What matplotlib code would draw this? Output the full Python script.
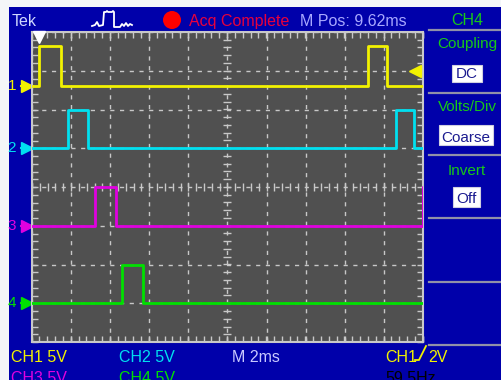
import numpy as np
import matplotlib
matplotlib.use('Agg')
import matplotlib.pyplot as plt
import matplotlib.transforms as mtransforms
from matplotlib.patches import Rectangle, Circle
from matplotlib.ticker import MultipleLocator

plt.rcParams['font.family'] = ['Liberation Sans', 'DejaVu Sans']

# scope settings
ms_per_div = 2.0
volts_per_div = 5.0
h_pos = 9.62          # ms at screen centre
n_xdiv, n_ydiv = 10, 8
trig_level = 2.0      # V on CH1

channels = ['CH1', 'CH2', 'CH3', 'CH4']
ch_colors = ['#f2f200', '#00e0f0', '#e000e0', '#00e000']
ch_offsets = [2.6, 1.0, -1.0, -3.0]     # ground marker, divisions
pulse_volts = [5.2, 5.0, 5.0, 5.0]
rise_ms = [[0.0, 16.81], [1.46, 18.24], [2.84, 19.60], [4.22]]
fall_ms = [[1.10, 17.78], [2.48, 19.16], [3.92, 21.0], [5.30]]

# little "acquire" icon next to Tek logo (screen pixels)
icon_x = [92, 95, 97, 99, 103, 104, 106, 107, 108, 112, 113, 114, 114, 120, 122, 124, 126, 128, 130, 132]
icon_y = [26, 25, 22, 26, 25, 12, 12, 11, 12, 12, 11, 12, 27, 27, 24, 26, 23, 26, 24, 25]

blue = '#0000aa'
grid_col = '#c8c8c8'
panel_green = '#18c818'
box_text = '#1c1c90'

W, H = 502, 380
fig = plt.figure(figsize=(W / 100, H / 100), dpi=100, facecolor='#f4f6f8')

# background in pixel coordinates
bg = fig.add_axes([0, 0, 1, 1])
bg.set_xlim(0, W)
bg.set_ylim(H, 0)
bg.axis('off')
bg.add_patch(Rectangle((9, 7), W - 9, H - 7, color=blue, lw=0))

# header
bg.text(12, 26, 'Tek', color='#d0d8ff', fontsize=11.5, va='baseline')
bg.plot(icon_x, icon_y, color='white', lw=1.3)
bg.add_patch(Circle((172, 20), 9, color='#ff0000', lw=0))
bg.text(189, 26, 'Acq Complete', color='#e8003c', fontsize=11.5, va='baseline')
bg.text(300, 26, 'M Pos: 9.62ms', color='#a8a8ff', fontsize=11.5, va='baseline')

# right-hand menu
bg.text(467, 25, 'CH4', color=panel_green, fontsize=11.5, ha='center', va='baseline')
for y in [30, 93, 155, 218, 282, 345]:
    bg.plot([429, W], [y, y], color='#9090a8', lw=1.6)
menu = [('Coupling', 48, 'DC', 452, 65, 30, 17, 78),
        ('Volts/Div', 111, 'Coarse', 439, 125, 54, 20, 142),
        ('Invert', 175, 'Off', 453, 187, 27, 20, 203)]
for title, ty, val, bx, by, bw, bh, vy in menu:
    bg.text(467, ty, title, color=panel_green, fontsize=11, ha='center', va='baseline')
    bg.add_patch(Rectangle((bx, by), bw, bh, facecolor='white', edgecolor='#d0d0e0', lw=0.8))
    bg.text(bx + bw / 2, vy, val, color=box_text, fontsize=11, ha='center', va='baseline')

# status lines along the bottom
bg.text(11, 362, 'CH1 5V', color=ch_colors[0], fontsize=11.5, va='baseline')
bg.text(119, 362, 'CH2 5V', color=ch_colors[1], fontsize=11.5, va='baseline')
bg.text(232, 362, 'M 2ms', color='#c8c8ff', fontsize=11.5, va='baseline')
bg.text(385, 362, 'CH1', color=ch_colors[0], fontsize=11.5, va='baseline')
bg.plot([415, 419, 426], [360, 360, 346], color=ch_colors[0], lw=1.3)
bg.text(428, 362, '2V', color=ch_colors[0], fontsize=11.5, va='baseline')
bg.text(11, 383, 'CH3 5V', color=ch_colors[2], fontsize=11.5, va='baseline')
bg.text(119, 383, 'CH4 5V', color=ch_colors[3], fontsize=11.5, va='baseline')
bg.text(385, 383, '59.5Hz', color='black', fontsize=11.5, va='baseline')

# graticule
ax = fig.add_axes([32 / W, (H - 342) / H, 391 / W, 310 / H], facecolor='#505050')
t0 = h_pos - n_xdiv / 2 * ms_per_div
t1 = h_pos + n_xdiv / 2 * ms_per_div
ax.set_xlim(t0, t1)
ax.set_ylim(-n_ydiv / 2, n_ydiv / 2)
ax.set_xticks(t0 + ms_per_div * np.arange(n_xdiv + 1))
ax.set_yticks(np.arange(-n_ydiv / 2, n_ydiv / 2 + 1))
ax.xaxis.set_minor_locator(MultipleLocator(ms_per_div / 5))
ax.yaxis.set_minor_locator(MultipleLocator(0.2))
ax.tick_params(which='both', direction='in', top=True, right=True,
               labelbottom=False, labelleft=False, color=grid_col, length=4, width=1)
ax.grid(True, which='major', color=grid_col, lw=1, linestyle=(0, (3, 4)))
for s in ax.spines.values():
    s.set_color(grid_col)
    s.set_linewidth(1.5)

# ticks along the centre cross
mx = np.arange(t0, t1 + 1e-6, ms_per_div / 5)
my = np.arange(-n_ydiv / 2, n_ydiv / 2 + 1e-6, 0.2)
ax.plot(mx, np.zeros_like(mx), ls='none', marker='|', ms=6, mew=1, color=grid_col)
ax.plot(np.full_like(my, h_pos), my, ls='none', marker='_', ms=6, mew=1, color=grid_col)

# channel traces
left = mtransforms.blended_transform_factory(ax.transAxes, ax.transData)
for i, name in enumerate(channels):
    times, levels = [t0], [0.0]
    for r, f in zip(rise_ms[i], fall_ms[i]):
        times += [r, min(f, t1)]
        levels += [pulse_volts[i], 0.0]
    if times[-1] < t1:
        times.append(t1)
        levels.append(0.0)
    y = ch_offsets[i] + np.array(levels) / volts_per_div
    ax.plot(times, y, drawstyle='steps-post', color=ch_colors[i], lw=2, zorder=5)
    # ground marker on the left edge
    ax.plot([-0.027, -0.012], [ch_offsets[i]] * 2, color=ch_colors[i], lw=1.5,
            transform=left, clip_on=False)
    ax.plot(-0.012, ch_offsets[i], marker='>', ms=8, color=ch_colors[i],
            transform=left, clip_on=False)
    ax.text(-0.052, ch_offsets[i], name[-1], color=ch_colors[i], fontsize=11,
            ha='center', va='center', transform=left)

# trigger position and level markers
top = mtransforms.blended_transform_factory(ax.transData, ax.transAxes)
ax.plot(0.0, 0.985, marker='v', ms=8, color='white', transform=top, clip_on=False, zorder=6)
ax.plot(0.98, ch_offsets[0] + trig_level / volts_per_div, marker='<', ms=9,
        color=ch_colors[0], transform=left, clip_on=False, zorder=6)

fig.savefig('out.png', dpi=100, facecolor=fig.get_facecolor())
